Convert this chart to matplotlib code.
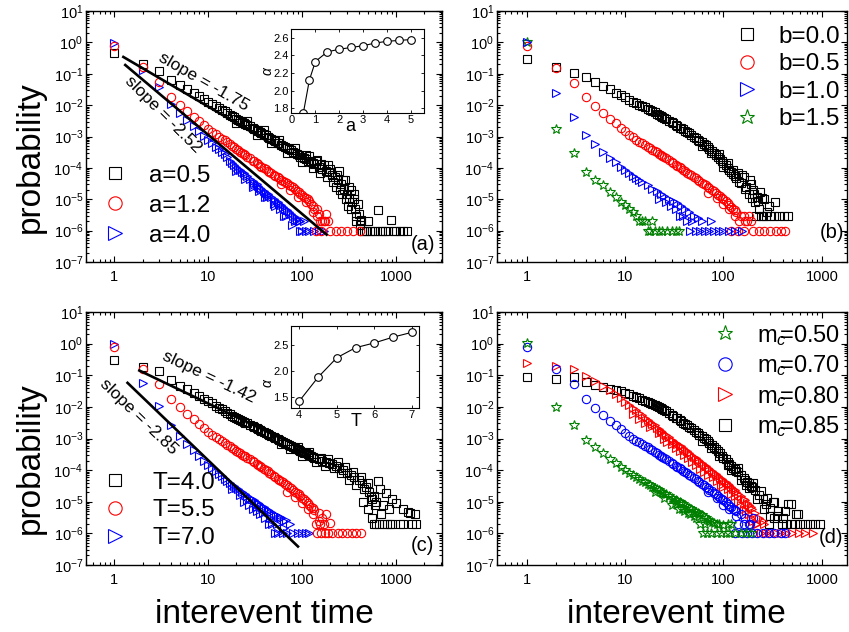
import numpy as np
import matplotlib
matplotlib.use("Agg")
import matplotlib.pyplot as plt
from matplotlib.ticker import LogLocator, FixedLocator, FixedFormatter, NullFormatter

plt.rcParams['font.family'] = ['Liberation Sans', 'DejaVu Sans']
plt.rcParams['mathtext.fontset'] = 'custom'
plt.rcParams['mathtext.rm'] = 'Liberation Sans'
plt.rcParams['mathtext.it'] = 'Liberation Sans:italic'
plt.rcParams['mathtext.bf'] = 'Liberation Sans:bold'

# ---------------- panel (a) ----------------
a05_t = [1,2,3,4,5,6,7,8,9,10,11,12,13,14,15,17,19,21,23,25,28,31,34,37,41,45,50,55,60,66,72,80,88,96,
         105,115,125,135,150,165,180,195,210,225,240,260,280,300,320,345,370,400,430,460,500,560,640,720,820,880,950,1100,1300,
         120,140,160,190,230,250,270,290,310,330,360,380,420,440,480,530,600,680,760,1000,1200]
a05_p = [0.45,0.2,0.12,0.063,0.044,0.032,0.025,0.0195,0.016,0.013,0.011,0.0093,0.0082,0.0071,0.0063,0.005,0.0041,0.0034,0.0029,0.0025,0.0021,0.0017,0.0015,0.0013,0.0011,9.2e-4,7.6e-4,6.4e-4,5.5e-4,4.6e-4,3.9e-4,3.3e-4,2.7e-4,2.3e-4,
         2.0e-4,1.7e-4,1.5e-4,1.3e-4,1.1e-4,9e-5,8e-5,7.5e-5,6e-5,5e-5,4e-5,3e-5,2.2e-5,1.5e-5,1.1e-5,8e-6,5e-6,3.5e-6,2e-6,1e-6,2e-6,1e-6,4.5e-6,1e-6,1e-6,2.2e-6,1e-6,1e-6,1e-6,
         2.4e-4,1.6e-4,1.3e-4,1.2e-4,2.5e-5,8e-5,1.5e-5,4e-5,6e-6,2e-5,1e-5,2e-6,2.2e-6,1e-6,1e-6,1e-6,1e-6,1e-6,1e-6,1e-6,1e-6]
a05_tx = [16,18,20,22,24,26,30,33,36,39,43,47,52,57,63,69,76,84,92,100,110,130,
          20,26,33,39,47,57,69,84,100,110,130,145,155,170,185,200,215,235,255,275,295,315,335,355,375,395,410]
a05_px = [0.0056,0.0045,0.0037,0.0031,0.0027,0.0023,0.0018,0.0016,0.0014,0.0012,1e-3,8.5e-4,7e-4,6e-4,5e-4,4.2e-4,3.6e-4,3e-4,2.5e-4,2.2e-4,1.85e-4,1.4e-4,
          2.6e-3,3.2e-3,1.1e-3,1.6e-3,6e-4,8e-4,3e-4,4.2e-4,1.5e-4,2.6e-4,1e-4,1.8e-4,7e-5,1.2e-4,5e-5,9e-5,3.5e-5,6e-5,2e-5,4e-5,1e-5,2.5e-5,5e-6,1.5e-5,3e-6,7e-6,1.5e-6]

a12_t = [1,2,3,4,5,6,7,8,9,10,11,12,13,14,15,17,19,21,23,25,28,31,34,37,41,45,50,55,60,66,72,80,88,96,
         105,115,125,135,150,165,180,190,140,160,200,230,260,300,350,410,145,155,175]
a12_p = [0.78,0.168,0.056,0.0186,0.0098,0.0063,0.0043,0.0031,0.0023,0.0017,0.0014,0.0012,1e-3,8.6e-4,7.5e-4,5.8e-4,4.5e-4,3.7e-4,3.0e-4,2.5e-4,2.0e-4,1.6e-4,1.3e-4,1.1e-4,9e-5,7.5e-5,6e-5,5e-5,4.2e-5,3.5e-5,2.9e-5,2.4e-5,1.9e-5,1.5e-5,
         1.2e-5,1e-5,7e-6,5e-6,3.5e-6,2e-6,3.5e-6,2e-6,1e-6,1e-6,1e-6,1e-6,1e-6,1e-6,1e-6,1e-6,5e-6,2e-6,2e-6]
a12_tx = [16,18,20,22,24,26,30,33,36,39,43,47,52,57,63,69,76,84,92,100,110,120,130,60,75,90,110,130,145,170]
a12_px = [6.6e-4,5.1e-4,4.1e-4,3.3e-4,2.7e-4,2.3e-4,1.7e-4,1.4e-4,1.15e-4,1e-4,8.2e-5,6.8e-5,5.5e-5,4.6e-5,3.8e-5,3.2e-5,2.6e-5,2.1e-5,1.7e-5,1.35e-5,1.1e-5,8.5e-6,6e-6,
          3e-5,2e-5,1.2e-5,8e-6,4e-6,3e-6,2e-6]

a40_t = [1,2,3,4,5,6,7,8,9,10,11,12,13,14,15,17,19,21,23,25,28,31,34,37,41,45,50,55,60,66,72,80,88,96,
         100,105,110,120,135,150,170,30,40,52,64,78]
a40_p = [0.93,0.13,0.037,0.011,5.5e-3,3.3e-3,2.1e-3,1.45e-3,1.05e-3,7.8e-4,6e-4,4.8e-4,3.9e-4,3.2e-4,2.7e-4,1.7e-4,1.25e-4,9.5e-5,7.5e-5,6e-5,4.5e-5,3.4e-5,2.7e-5,2.1e-5,1.6e-5,1.3e-5,1e-5,8e-6,6.5e-6,5e-6,4e-6,3e-6,2.3e-6,2e-6,
         1e-6,2e-6,1e-6,1e-6,1e-6,1e-6,1e-6,2.5e-5,1.2e-5,6e-6,3e-6,1.5e-6]
a40_tx = [16,18,20,22,24,26,30,33,36,39,43,47,52,57,63,69,76,84,92,20,25,30,35,42,50,58,67,85,95]
a40_px = [2.2e-4,1.45e-4,1.1e-4,8.5e-5,6.7e-5,5.4e-5,3.8e-5,3e-5,2.3e-5,1.9e-5,1.5e-5,1.15e-5,9e-6,7.2e-6,5.8e-6,4.5e-6,3.5e-6,2.7e-6,2e-6,
          8e-5,4.5e-5,2.8e-5,1.8e-5,1.2e-5,7e-6,5e-6,3e-6,2e-6,1e-6]

# inset (a)
ins_a_x = [0.5,0.75,1.0,1.5,2.0,2.5,3.0,3.5,4.0,4.5,5.0]
ins_a_y = [1.75,2.12,2.33,2.44,2.47,2.49,2.51,2.54,2.56,2.57,2.58]

# ---------------- panel (b) ----------------
b00_t = [1,2,3,4,5,6,7,8,9,10,11,12,13,14,15,17,19,21,23,25,28,31,34,37,41,45,50,55,60,66,72,80,88,96,
         105,115,125,135,150,165,180,195,210,230,250,
         140,160,185,200,220,237,260,290,336,215,240,270,300,330,370,410,450]
b00_p = [0.29,0.17,0.107,0.076,0.054,0.041,0.032,0.025,0.021,0.0175,0.015,0.013,0.0115,0.0103,0.0093,0.0077,0.0064,0.0053,0.0045,0.0039,0.0032,0.0026,0.0022,0.00185,0.0015,0.00125,9.8e-4,8e-4,6.5e-4,5.2e-4,4e-4,3e-4,2.2e-4,1.6e-4,
         1.2e-4,8.5e-5,6.3e-5,4.8e-5,3.2e-5,2.2e-5,1.5e-5,1.1e-5,8e-6,5e-6,3e-6,
         7e-5,5e-5,4e-5,2e-5,1.2e-5,1.7e-5,1e-5,6e-6,8e-6,3e-6,3e-6,3e-6,3e-6,3e-6,3e-6,3e-6,3e-6]
b00_tx = [16,18,20,22,24,26,30,33,36,39,43,47,52,57,63,69,76,84,92,100,110,120,130,
          60,75,90,100,110,125,145,155,170,190,205,225,245,280]
b00_px = [0.0085,0.0071,0.006,0.0049,0.0042,0.0036,0.0028,0.0023,0.0019,0.0017,0.0014,0.00115,9e-4,7.3e-4,5.8e-4,4.5e-4,3.5e-4,2.6e-4,1.9e-4,1.4e-4,1e-4,7.5e-5,5.5e-5,
          5e-4,3e-4,2.8e-4,1.1e-4,1.4e-4,8.5e-5,3.5e-5,6e-5,2.5e-5,3e-5,1.5e-5,9e-6,1.1e-5,4e-6]

b05_t = [1,2,3,4,5,6,7,8,9,10,11,12,13,14,15,17,19,21,23,25,28,31,34,37,41,45,50,55,60,66,72,80,88,96,
         105,115,125,135,150,165,180,190,120,140,160,200,230,260,300,340,380,420]
b05_p = [0.78,0.155,0.052,0.018,9.3e-3,5.7e-3,3.7e-3,2.6e-3,1.9e-3,1.45e-3,1.15e-3,9.5e-4,8e-4,6.9e-4,6e-4,4.7e-4,3.8e-4,3.1e-4,2.6e-4,2.2e-4,1.75e-4,1.4e-4,1.15e-4,9.6e-5,7.8e-5,6.4e-5,5e-5,4.1e-5,3.4e-5,2.8e-5,2.3e-5,1.8e-5,1.4e-5,1.1e-5,
         8.5e-6,6.5e-6,5e-6,4e-6,3e-6,2e-6,3e-6,2e-6,1e-6,1e-6,1e-6,1e-6,1e-6,1e-6,1e-6,1e-6,1e-6,1e-6]
b05_tx = [16,18,20,22,24,26,30,33,36,39,43,47,52,57,63,69,76,84,92,100,110,120,130,70,85,100,115,130,145,160,175]
b05_px = [5.3e-4,4.2e-4,3.4e-4,2.85e-4,2.4e-4,2e-4,1.5e-4,1.25e-4,1.05e-4,8.7e-5,7.1e-5,5.8e-5,4.6e-5,3.8e-5,3.1e-5,2.5e-5,2e-5,1.6e-5,1.25e-5,1e-5,7.5e-6,5.8e-6,4.5e-6,
          1.6e-5,1.1e-5,7e-6,5e-6,3e-6,2e-6,3e-6,2e-6]

b10_t = [1,2,3,4,5,6,7,8,9,10,11,12,13,14,15,17,19,21,23,25,28,31,34,37,41,45,50,55,60,
         22,26,29,33,36,39,43,48,53,46,58,65,72,80,90,100,115,130,155,75]
b10_p = [1.0,0.025,4.3e-3,1.1e-3,5.7e-4,3.3e-4,2.1e-4,1.5e-4,1.1e-4,8.5e-5,6.8e-5,5.7e-5,4.8e-5,4.1e-5,3.6e-5,2.8e-5,2.2e-5,1.8e-5,1.5e-5,1.3e-5,1.05e-5,9e-6,7.5e-6,6e-6,5e-6,4e-6,3e-6,2.5e-6,2.1e-6,
         1e-5,8e-6,6e-6,5e-6,3e-6,3e-6,2e-6,2e-6,1e-6,1e-6,1e-6,1e-6,1e-6,1e-6,1e-6,1e-6,1e-6,1e-6,1e-6,2e-6]

b15_t = [1,2,3,4,5,6,7,8,9,10,11,12,13,14,15,16,17,18,19,20,22,24,27,30,33,35]
b15_p = [1.05,1.7e-3,2.9e-4,7.5e-5,4e-5,2.8e-5,1.7e-5,1.2e-5,8e-6,6.8e-6,5e-6,3.9e-6,3e-6,2e-6,2e-6,2e-6,1e-6,1e-6,2e-6,1e-6,1e-6,1e-6,1e-6,1e-6,1e-6,1e-6]

# ---------------- panel (c) ----------------
T40_t = [1,2,3,4,5,6,7,8,9,10,11,12,13,14,15,17,19,21,23,25,28,31,34,37,41,45,50,55,60,66,72,80,88,96,
         105,115,125,135,150,165,180,195,210,230,250,275,300,330,360,400,440,480,520,560,600,640,700,790,850,1000,1350,1400,
         450,500,550,580,590,620,660,750,800,860,920,1100,1200,1500,1650]
T40_p = [0.3,0.18,0.135,0.07,0.047,0.037,0.028,0.022,0.018,0.015,0.0128,0.011,0.0095,0.0083,0.0073,0.0058,0.0049,0.0041,0.0036,0.0032,0.0027,0.0023,0.002,0.00175,0.0015,0.0013,0.0011,9.5e-4,8.3e-4,7.2e-4,6.3e-4,5.4e-4,4.7e-4,4.1e-4,
         3.6e-4,3.2e-4,2.8e-4,2.5e-4,2.2e-4,2e-4,1.8e-4,1.7e-4,1.6e-4,1.4e-4,1.2e-4,1e-4,8e-5,7e-5,6e-5,5e-5,4e-5,3e-5,2e-5,1.2e-5,8e-6,4.4e-5,4e-6,1.9e-5,6e-6,9e-6,4.6e-6,4.4e-6,
         1e-5,6e-6,3e-6,1.5e-5,2e-6,2e-6,2e-6,2e-6,2e-6,2e-6,2e-6,2e-6,2e-6,2e-6,2e-6]
T40_tx = [16,18,20,22,24,26,30,33,36,39,43,47,52,57,63,69,76,84,92,100,110,120,130,
          60,75,90,100,120,140,160,175,190,220,240,260,285,320,350,380,420,460,500,540,620,680,730,900,1200,1600]
T40_px = [0.0065,0.0053,0.0045,0.0038,0.0034,0.003,0.0024,0.0021,0.0018,0.0016,0.0014,0.0012,0.00102,8.8e-4,7.7e-4,6.7e-4,5.8e-4,5e-4,4.4e-4,3.8e-4,3.4e-4,3e-4,2.6e-4,
          6.5e-4,4.8e-4,5.2e-4,2.9e-4,3.8e-4,1.8e-4,2.5e-4,1.4e-4,2.2e-4,1.2e-4,1.8e-4,8e-5,1.3e-4,5e-5,9e-5,3.5e-5,6e-5,2.5e-5,4e-5,1.4e-5,1e-5,2.5e-5,8e-6,1.2e-5,6e-6,4e-6]

T55_t = [1,2,3,4,5,6,7,8,9,10,11,12,13,14,15,17,19,21,23,25,28,31,34,37,41,45,50,55,60,66,72,80,88,96,
         105,115,125,135,150,165,180,200,140,155,145,160,175,190,210,240,270,300,340,380,420]
T55_p = [0.78,0.16,0.051,0.018,0.01,6e-3,4e-3,2.8e-3,2.1e-3,1.6e-3,1.3e-3,1.1e-3,9.3e-4,8.1e-4,7.2e-4,5.6e-4,4.5e-4,3.7e-4,3.1e-4,2.7e-4,2.2e-4,1.8e-4,1.5e-4,1.25e-4,1e-4,8.3e-5,6.5e-5,5.4e-5,4.5e-5,3.7e-5,3e-5,2.4e-5,1.9e-5,1.5e-5,
         1.2e-5,9e-6,7e-6,5.5e-6,4.5e-6,3e-6,4e-6,2.2e-6,2e-6,2e-6,1e-6,1e-6,1e-6,1e-6,1e-6,1e-6,1e-6,1e-6,1e-6,1e-6,1e-6]
T55_tx = [16,18,20,22,24,26,30,33,36,39,43,47,52,57,63,69,76,84,92,100,110,120,130,70,85,100,115,130,150,170]
T55_px = [6.3e-4,5e-4,4.1e-4,3.4e-4,2.9e-4,2.5e-4,1.9e-4,1.6e-4,1.35e-4,1.1e-4,9.2e-5,7.6e-5,6e-5,5e-5,4.1e-5,3.4e-5,2.7e-5,2.1e-5,1.7e-5,1.35e-5,1.05e-5,8e-6,6.3e-6,
          2e-5,1.4e-5,9e-6,6e-6,4e-6,2.5e-6,2e-6]

T70_t = [1,2,3,4,5,6,7,8,9,10,11,12,13,14,15,17,19,21,23,25,28,31,34,37,41,45,50,55,60,68,75,
         24,27,30,33,36,40,44,48,52,56,62,70,80,90,100,110,120]
T70_p = [1.0,0.057,0.0105,2.6e-3,1.2e-3,6.8e-4,4.2e-4,2.8e-4,2e-4,1.5e-4,1.15e-4,9.2e-5,7.5e-5,6.3e-5,5.4e-5,4e-5,3.1e-5,2.5e-5,2e-5,1.7e-5,1.35e-5,1.1e-5,9e-6,7.5e-6,6e-6,5e-6,4.2e-6,3.5e-6,3e-6,2.7e-6,2e-6,
         1e-5,8e-6,6e-6,5e-6,4e-6,3e-6,2e-6,2e-6,1e-6,1e-6,1e-6,1e-6,1e-6,1e-6,1e-6,1e-6,1e-6]
T70_tx = [16,18,20,22,26,29,32,35,39,43,47,53,58,65,18,22,26,32,38,46,54,64]
T70_px = [4.6e-5,3.5e-5,2.8e-5,2.2e-5,1.55e-5,1.25e-5,1e-5,8.3e-6,6.8e-6,5.5e-6,4.6e-6,3.8e-6,3.2e-6,2.5e-6,
          2.5e-5,1.6e-5,1.1e-5,7e-6,4.5e-6,3e-6,2e-6,1.5e-6]

# inset (c)
ins_c_x = [4.0,4.5,5.0,5.5,6.0,6.5,7.0]
ins_c_y = [1.43,1.88,2.25,2.44,2.53,2.64,2.73]

# ---------------- panel (d) ----------------
m50_t = [1,2,3,4,5,6,7,8,9,10,11,12,13,14,15,17,19,21,23,25,28,31,34,37,41,45,50,55,60,66,72,80,90,100,120,
         62,68,75,85,95,105,115,130,150,170,190,30,35,40,46,52,58]
m50_p = [1.05,0.01,2.6e-3,9e-4,5.3e-4,3.4e-4,2.3e-4,1.65e-4,1.25e-4,1e-4,8.3e-5,7e-5,6e-5,5.2e-5,4.6e-5,3.7e-5,3e-5,2.5e-5,2.1e-5,1.8e-5,1.5e-5,1.25e-5,1.05e-5,9e-6,7.5e-6,6.3e-6,5.2e-6,4.4e-6,3.7e-6,3e-6,2.5e-6,2.1e-6,2e-6,1.9e-6,2e-6,
         1e-6,1e-6,1e-6,1e-6,1e-6,1e-6,1e-6,1e-6,1e-6,1e-6,1e-6,8e-6,6e-6,5e-6,4e-6,3e-6,2e-6]
m50_tx = [16,18,20,22,24,26,30,33,36,39,43,47,52,57,63,69,76,85,20,25,32,38,44,50,65,110]
m50_px = [4.1e-5,3.3e-5,2.7e-5,2.3e-5,1.95e-5,1.7e-5,1.35e-5,1.1e-5,9.5e-6,8.2e-6,6.8e-6,5.8e-6,4.8e-6,4e-6,3.3e-6,2.7e-6,2.3e-6,2e-6,
          2e-5,1.3e-5,9e-6,6e-6,4.5e-6,3.5e-6,2e-6,2e-6]

m70_t = [1,2,3,4,5,6,7,8,9,10,11,12,13,14,15,17,19,21,23,25,28,31,34,37,41,45,50,55,60,66,72,80,88,96,
         105,115,125,135,150,165,180,200,140,130,155,175,195,220,250,290,330,380,420]
m70_p = [0.78,0.16,0.052,0.0175,9.5e-3,5.7e-3,3.7e-3,2.6e-3,1.95e-3,1.5e-3,1.2e-3,1e-3,8.5e-4,7.5e-4,6.6e-4,5.2e-4,4.2e-4,3.4e-4,2.8e-4,2.4e-4,1.95e-4,1.6e-4,1.3e-4,1.1e-4,8.8e-5,7.2e-5,5.5e-5,4.5e-5,3.7e-5,3e-5,2.4e-5,1.9e-5,1.5e-5,1.2e-5,
         9.5e-6,7.5e-6,6e-6,5e-6,4e-6,3e-6,2e-6,3e-6,2e-6,1e-6,1e-6,1e-6,1e-6,1e-6,1e-6,1e-6,1e-6,1e-6,1e-6]
m70_tx = [16,18,20,22,24,26,30,33,36,39,43,47,52,57,63,69,76,84,92,100,110,120,130,70,85,100,115,135,160,185]
m70_px = [5.9e-4,4.7e-4,3.8e-4,3.1e-4,2.6e-4,2.2e-4,1.7e-4,1.4e-4,1.15e-4,9.7e-5,8e-5,6.5e-5,5.1e-5,4.2e-5,3.4e-5,2.7e-5,2.2e-5,1.7e-5,1.35e-5,1.1e-5,8.5e-6,6.7e-6,5.5e-6,
          2e-5,1.3e-5,8e-6,6e-6,3.5e-6,2e-6,2e-6]

m80_t = [1,2,3,4,5,6,7,8,9,10,11,12,13,14,15,17,19,21,23,25,28,31,34,37,41,45,50,55,60,66,72,80,88,96,
         105,115,125,135,150,165,180,195,210,230,250,270,300,340,380,430,500,580,680,820,240,220,
         12,16,22,27,33,40,48,58,70,85,100,120,140,160,180,200]
m80_p = [0.25,0.2,0.155,0.095,0.066,0.046,0.034,0.025,0.019,0.0145,0.0115,0.0093,0.0077,0.0064,0.0054,0.0038,0.0029,0.0022,0.00175,0.0014,0.0011,8.6e-4,6.9e-4,5.6e-4,4.4e-4,3.5e-4,2.6e-4,2.1e-4,1.7e-4,1.35e-4,1.1e-4,8.3e-5,6.5e-5,5.2e-5,
         4.1e-5,3.3e-5,2.6e-5,2e-5,1.5e-5,1.1e-5,8e-6,6e-6,4.5e-6,3e-6,2.4e-6,1e-6,1e-6,1e-6,1e-6,1e-6,1e-6,1e-6,1e-6,1e-6,1e-6,2e-6,
         6e-3,3.2e-3,1.5e-3,8e-4,5e-4,3e-4,1.8e-4,1.1e-4,7e-5,4.5e-5,3e-5,1.8e-5,1e-5,6e-6,4e-6,2.5e-6]
m80_tx = [16,18,20,22,24,26,30,33,36,39,43,47,52,57,63,69,76,84,92,100,110,120,130,140,160,175,190,
          14,18,25,30,36,44,53,64,78,95,110,130,150,170,190,215,260]
m80_px = [4.4e-3,3.3e-3,2.6e-3,2e-3,1.6e-3,1.3e-3,9.2e-4,7.4e-4,6e-4,5e-4,4e-4,3.1e-4,2.4e-4,1.9e-4,1.5e-4,1.2e-4,9.5e-5,7.4e-5,5.8e-5,4.6e-5,3.7e-5,3e-5,2.3e-5,1.8e-5,1.2e-5,9e-6,7e-6,
          4e-3,2.3e-3,1e-3,6.5e-4,4e-4,2.5e-4,1.5e-4,9e-5,6e-5,3.5e-5,2.5e-5,1.5e-5,8e-6,5e-6,3e-6,2e-6,2e-6]

m85_t = [1,2,3,4,5,6,7,8,9,10,11,12,13,14,15,17,19,21,23,25,28,31,34,37,41,45,50,55,60,66,72,80,88,96,
         105,115,125,135,150,165,180,195,210,230,250,270,300,330,360,400,450,490,540,575,
         110,140,170,200,240,280,320,350,420,290,390,430,480,530,600,680,760,850,950]
m85_p = [0.087,0.075,0.087,0.059,0.048,0.042,0.037,0.034,0.031,0.028,0.025,0.0225,0.0205,0.0187,0.017,0.0143,0.0122,0.0105,0.0092,0.0081,0.0066,0.0052,0.0043,0.0036,0.0029,0.0023,0.0018,0.00145,0.00118,9.3e-4,7.2e-4,5.3e-4,3.9e-4,2.9e-4,
         2.2e-4,1.6e-4,1.2e-4,9.5e-5,7e-5,5e-5,3.8e-5,3e-5,2.3e-5,1.6e-5,1.2e-5,8.5e-6,6.5e-6,1e-5,5e-6,3e-6,8.7e-6,8.7e-6,4e-6,4.1e-6,
         1.5e-4,1.2e-4,3.5e-5,4e-5,2.2e-5,1.3e-5,1e-5,3.5e-6,5e-6,2e-6,2e-6,2e-6,2e-6,2e-6,2e-6,2e-6,2e-6,2e-6,2e-6]
m85_tx = [16,18,20,22,24,26,30,33,36,39,43,47,52,57,63,69,76,84,92,100,110,120,130,140,160,175,190,
          60,75,90,120,150,180,220,260,300,330]
m85_px = [0.0156,0.0132,0.0113,0.0098,0.0086,0.0076,0.0057,0.0046,0.0038,0.0032,0.0026,0.0021,0.00165,0.00133,0.00105,8.2e-4,6.2e-4,4.6e-4,3.4e-4,2.5e-4,1.85e-4,1.4e-4,1.05e-4,8.5e-5,5.5e-5,4.2e-5,3.2e-5,
          8.5e-4,5e-4,2.8e-4,1e-4,5e-5,2.8e-5,1.2e-5,6e-6,3.5e-6,3e-6]

# fitted power-law guide lines: (slope, anchor t, anchor p, t end)
fit_a = [(-1.75, 1.25, 0.343, 60.0), (-2.52, 1.31, 0.19, 183.0)]
fit_c = [(-1.42, 1.85, 0.141, 60.0), (-2.85, 1.385, 0.0575, 90.6)]

# ---------------- figure ----------------
W, H = 849, 632
fig = plt.figure(figsize=(W/100, H/100), dpi=100)

def frac(l, t, r, b):
    return [l/W, 1-b/H, (r-l)/W, (b-t)/H]

ax_a = fig.add_axes(frac(86, 11, 442, 262))
ax_b = fig.add_axes(frac(497, 11, 847, 262))
ax_c = fig.add_axes(frac(86, 312, 442, 565))
ax_d = fig.add_axes(frac(497, 312, 847, 565))

ms_sq, ms_ci, ms_tr, ms_st = 5.2, 6.0, 6.0, 7.0
mew = 0.8
def pts(ax, t, p, tx, px, marker, color, ms, label, z=2):
    tt = list(t) + list(tx)
    pp = list(p) + list(px)
    ax.plot(tt, pp, linestyle='none', marker=marker, ms=ms, mfc='none', mec=color, mew=mew, label=label, zorder=z)

def style(ax, xmax):
    ax.set_xscale('log'); ax.set_yscale('log')
    ax.set_xlim(0.5, xmax); ax.set_ylim(1e-7, 10)
    ax.yaxis.set_major_locator(LogLocator(base=10, numticks=20))
    ax.yaxis.set_minor_locator(LogLocator(base=10, subs=np.arange(2, 10), numticks=20))
    ax.yaxis.set_minor_formatter(NullFormatter())
    ax.xaxis.set_major_locator(FixedLocator([1, 10, 100, 1000]))
    ax.xaxis.set_major_formatter(FixedFormatter(['1', '10', '100', '1000']))
    ax.xaxis.set_minor_locator(LogLocator(base=10, subs=np.arange(2, 10), numticks=20))
    ax.xaxis.set_minor_formatter(NullFormatter())
    ax.tick_params(which='both', direction='in', top=True, right=True, width=0.8, colors='black')
    ax.tick_params(which='major', length=4)
    ax.tick_params(which='minor', length=2)
    ax.tick_params(axis='y', labelsize=10.5, pad=2)
    ax.tick_params(axis='x', labelsize=10.5, pad=6)
    for s in ax.spines.values():
        s.set_linewidth(1.0)

for ax, xm in [(ax_a, 3100), (ax_b, 1800), (ax_c, 3100), (ax_d, 1800)]:
    style(ax, xm)

leg_kw = dict(frameon=False, markerscale=1.6, handlelength=1.0, borderpad=0, borderaxespad=0, loc='upper left')

# panel a
pts(ax_a, a05_t, a05_p, a05_tx, a05_px, 's', 'black', ms_sq, 'a=0.5')
pts(ax_a, a40_t, a40_p, a40_tx, a40_px, '>', 'blue', ms_tr, 'a=4.0')
pts(ax_a, a12_t, a12_p, a12_tx, a12_px, 'o', 'red', ms_ci, 'a=1.2')
for slope, t0, p0, t1 in fit_a:
    tt = np.array([t0, t1])
    ax_a.plot(tt, p0*(tt/t0)**slope, color='black', lw=1.9, zorder=5)
ax_a.text(8.85, 0.055, 'slope = -1.75', rotation=-30, ha='center', va='center', fontsize=12.5, rotation_mode='anchor')
ax_a.text(3.32, 0.0049, 'slope = -2.52', rotation=-45, ha='center', va='center', fontsize=12.5, rotation_mode='anchor')
h, l = ax_a.get_legend_handles_labels()
order = [0, 2, 1]
ax_a.legend([h[i] for i in order], [l[i] for i in order], bbox_to_anchor=(0.048, 0.388),
            fontsize=17.5, handletextpad=0.9, labelspacing=0.33, **leg_kw)
ax_a.text(0.947, 0.068, '(a)', transform=ax_a.transAxes, ha='center', va='center', fontsize=14.5)

# panel b
pts(ax_b, b00_t, b00_p, b00_tx, b00_px, 's', 'black', ms_sq, 'b=0.0')
pts(ax_b, b05_t, b05_p, b05_tx, b05_px, 'o', 'red', ms_ci, 'b=0.5')
pts(ax_b, b15_t, b15_p, [], [], '*', 'green', ms_st, 'b=1.5')
pts(ax_b, b10_t, b10_p, [], [], '>', 'blue', ms_tr, 'b=1.0')
h, l = ax_b.get_legend_handles_labels()
order = [0, 1, 3, 2]
ax_b.legend([h[i] for i in order], [l[i] for i in order], bbox_to_anchor=(0.68, 0.942),
            fontsize=17.5, handletextpad=0.8, labelspacing=0.23, **leg_kw)
ax_b.text(0.956, 0.116, '(b)', transform=ax_b.transAxes, ha='center', va='center', fontsize=14.5)

# panel c
pts(ax_c, T40_t, T40_p, T40_tx, T40_px, 's', 'black', ms_sq, 'T=4.0')
pts(ax_c, T70_t, T70_p, T70_tx, T70_px, '>', 'blue', ms_tr, 'T=7.0')
pts(ax_c, T55_t, T55_p, T55_tx, T55_px, 'o', 'red', ms_ci, 'T=5.5')
for slope, t0, p0, t1 in fit_c:
    tt = np.array([t0, t1])
    ax_c.plot(tt, p0*(tt/t0)**slope, color='black', lw=1.9, zorder=5)
ax_c.text(10.3, 0.085, 'slope = -1.42', rotation=-25.5, ha='center', va='center', fontsize=12.5, rotation_mode='anchor')
ax_c.text(1.8, 0.0049, 'slope = -2.85', rotation=-44, ha='center', va='center', fontsize=12.5, rotation_mode='anchor')
h, l = ax_c.get_legend_handles_labels()
order = [0, 2, 1]
ax_c.legend([h[i] for i in order], [l[i] for i in order], bbox_to_anchor=(0.048, 0.369),
            fontsize=17.5, handletextpad=1.03, labelspacing=0.235, **leg_kw)
ax_c.text(0.944, 0.079, '(c)', transform=ax_c.transAxes, ha='center', va='center', fontsize=14.5)

# panel d
pts(ax_d, m85_t, m85_p, m85_tx, m85_px, 's', 'black', ms_sq, r'm$_{c}\!\!$=0.85')
pts(ax_d, m80_t, m80_p, m80_tx, m80_px, '>', 'red', ms_tr, r'm$_{c}\!\!$=0.80')
pts(ax_d, m70_t, m70_p, m70_tx, m70_px, 'o', 'blue', ms_ci, r'm$_{c}\!\!$=0.70')
pts(ax_d, m50_t, m50_p, m50_tx, m50_px, '*', 'green', ms_st, r'm$_{c}\!\!$=0.50')
h, l = ax_d.get_legend_handles_labels()
order = [3, 2, 1, 0]
ax_d.legend([h[i] for i in order], [l[i] for i in order], bbox_to_anchor=(0.618, 0.958),
            fontsize=17, handletextpad=0.86, labelspacing=0.24, **leg_kw)
ax_d.text(0.954, 0.107, '(d)', transform=ax_d.transAxes, ha='center', va='center', fontsize=14.5)

# insets
def inset_style(ax):
    ax.tick_params(which='both', direction='in', labelsize=8, pad=1.5, length=2.5, width=0.6, top=True, right=True)
    for s in ax.spines.values():
        s.set_linewidth(0.8)

ins_a = fig.add_axes(frac(291, 29, 424, 113))
ins_a.plot(ins_a_x, ins_a_y, color='black', lw=0.8, marker='o', ms=5.5, mfc='white', mec='black', mew=0.8)
ins_a.set_xlim(-0.02, 5.55); ins_a.set_ylim(1.745, 2.70)
ins_a.set_xticks([0, 1, 2, 3, 4, 5]); ins_a.set_yticks([1.8, 2.0, 2.2, 2.4, 2.6])
ins_a.set_yticklabels(['1.8', '2.0', '2.2', '2.4', '2.6'])
inset_style(ins_a)
ins_a.text(0.444, -0.16, 'a', transform=ins_a.transAxes, ha='center', va='center', fontsize=13)
ins_a.text(-0.175, 0.5, r'$\alpha$', transform=ins_a.transAxes, ha='center', va='center', fontsize=10, rotation=90)

ins_c = fig.add_axes(frac(291, 326, 419, 408))
ins_c.plot(ins_c_x, ins_c_y, color='black', lw=0.8, marker='o', ms=5.5, mfc='white', mec='black', mew=0.8)
ins_c.set_xlim(3.78, 7.19); ins_c.set_ylim(1.30, 2.85)
ins_c.set_xticks([4, 5, 6, 7]); ins_c.set_yticks([1.5, 2.0, 2.5])
ins_c.set_yticklabels(['1.5', '2.0', '2.5'])
inset_style(ins_c)
ins_c.text(0.508, -0.17, 'T', transform=ins_c.transAxes, ha='center', va='center', fontsize=13)
ins_c.text(-0.18, 0.305, r'$\alpha$', transform=ins_c.transAxes, ha='center', va='center', fontsize=10, rotation=90)

# axis titles
fig.text(30/W, 1-157/H, 'probability', rotation=90, ha='center', va='center', fontsize=24)
fig.text(30/W, 1-458/H, 'probability', rotation=90, ha='center', va='center', fontsize=24)
fig.text(264/W, 1-623/H, 'interevent time', ha='center', va='baseline', fontsize=24)
fig.text(676/W, 1-623/H, 'interevent time', ha='center', va='baseline', fontsize=24)

fig.savefig('out.png', dpi=100)
